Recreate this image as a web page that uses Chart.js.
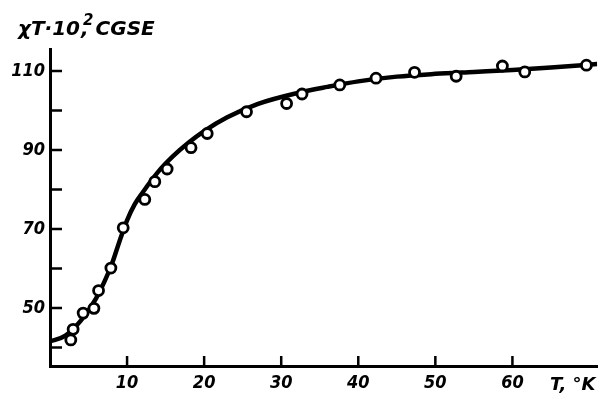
<!DOCTYPE html>
<html>
<head>
<meta charset="utf-8">
<script src="https://cdn.jsdelivr.net/npm/chart.js@4"></script>
<style>
    html, body { margin: 0; padding: 0; background: #fff; }
    #wrap { width: 605px; height: 400px; }
</style>
</head>
<body>
<div id="wrap"><canvas id="chart"></canvas></div>
<script>
// measured points (open circles)
const tPoints = [2.7, 3.0, 4.3, 5.7, 6.3, 7.9, 9.5, 12.3, 13.6, 15.2, 18.3, 20.4, 25.5, 30.7, 32.7, 37.6, 42.3, 47.3, 52.7, 58.7, 61.6, 69.6];
const chiTPoints = [41.9, 44.6, 48.7, 49.9, 54.4, 60.1, 70.3, 77.5, 82.0, 85.2, 90.6, 94.2, 99.7, 101.8, 104.2, 106.5, 108.2, 109.7, 108.7, 111.3, 109.8, 111.5];

// smooth curve
const tCurve = [0, 2, 4, 6, 8, 9, 10, 11, 12, 14, 16, 18, 20, 23, 27, 32, 36, 40, 45, 50, 55, 60, 65, 71];
const chiTCurve = [41.5, 43, 46.8, 52.5, 61, 66.8, 72.2, 76.3, 79.2, 84.4, 88.5, 91.9, 94.8, 98.3, 101.7, 104.4, 106, 107.4, 108.6, 109.3, 109.8, 110.3, 110.9, 111.8];

const xTicks = [10, 20, 30, 40, 50, 60];
const yTicks = [40, 50, 60, 70, 80, 90, 100, 110];
const yLabelled = [50, 70, 90, 110];

const tickFont = { family: '"DejaVu Sans Condensed", "DejaVu Sans", sans-serif', size: 18, style: 'italic', weight: 'bold' };
const captionFont = 'bold italic 20px "DejaVu Sans", sans-serif';

// inward tick marks plus the two axis captions
const extras = {
    id: 'extras',
    afterDraw(chart) {
        const ctx = chart.ctx;
        const x = chart.scales.x;
        const y = chart.scales.y;
        const area = chart.chartArea;
        ctx.save();
        ctx.strokeStyle = '#000';
        ctx.lineWidth = 2.5;
        ctx.beginPath();
        y.ticks.forEach((t, i) => {
            const py = y.getPixelForTick(i);
            ctx.moveTo(area.left, py);
            ctx.lineTo(area.left + 12, py);
        });
        x.ticks.forEach((t, i) => {
            const px = x.getPixelForTick(i);
            ctx.moveTo(px, area.bottom);
            ctx.lineTo(px, area.bottom - 10);
        });
        ctx.stroke();

        ctx.fillStyle = '#000';
        ctx.font = captionFont;
        ctx.textBaseline = 'alphabetic';
        ctx.textAlign = 'left';
        // y caption, with the exponent raised by hand
        let cx = 18;
        ctx.fillText('χT·10', cx, 35);
        cx += ctx.measureText('χT·10').width + 1;
        ctx.font = 'bold italic 15px "DejaVu Sans", sans-serif';
        ctx.fillText('2', cx + 2, 25);
        ctx.font = captionFont;
        ctx.fillText(', CGSE', cx, 35);
        ctx.font = 'bold italic 18px "DejaVu Sans", sans-serif';
        ctx.fillText('T, °K', 550, 390);
        ctx.restore();
    }
};

new Chart(document.getElementById('chart'), {
    type: 'scatter',
    data: {
        datasets: [
            {
                type: 'line',
                data: tCurve.map((t, i) => ({x: t, y: chiTCurve[i]})),
                borderColor: '#000',
                borderWidth: 4.5,
                pointRadius: 0,
                cubicInterpolationMode: 'monotone',
                fill: false,
                order: 2
            },
            {
                data: tPoints.map((t, i) => ({x: t, y: chiTPoints[i]})),
                backgroundColor: '#fff',
                borderColor: '#000',
                borderWidth: 2.8,
                pointRadius: 5,
                order: 1
            }
        ]
    },
    options: {
        responsive: true,
        maintainAspectRatio: false,
        animation: false,
        layout: { padding: { top: 49, right: 0, left: 0, bottom: 0 } },
        plugins: {
            legend: { display: false },
            tooltip: { enabled: false }
        },
        scales: {
            x: {
                type: 'linear',
                min: 0,
                max: 71,
                grid: { display: false, drawTicks: false },
                border: { display: true, color: '#000', width: 3 },
                afterBuildTicks: s => { s.ticks = xTicks.map(v => ({value: v})); },
                afterFit: s => { s.height = 34; },
                ticks: {
                    color: '#000',
                    font: tickFont,
                    padding: 7,
                    maxRotation: 0,
                    autoSkip: false
                }
            },
            y: {
                min: 35.3,
                max: 115.6,
                grid: { display: false, drawTicks: false },
                border: { display: true, color: '#000', width: 3 },
                afterBuildTicks: s => { s.ticks = yTicks.map(v => ({value: v})); },
                afterFit: s => { s.width = 50; },
                ticks: {
                    color: '#000',
                    font: tickFont,
                    padding: 5,
                    autoSkip: false,
                    callback: v => yLabelled.includes(v) ? String(v) : ''
                }
            }
        }
    },
    plugins: [extras]
});
</script>
</body>
</html>
